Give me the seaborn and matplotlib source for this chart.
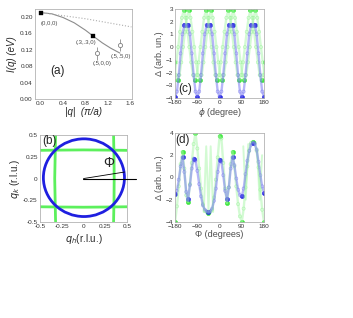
import numpy as np
import matplotlib
matplotlib.use('Agg')
import matplotlib.pyplot as plt
import seaborn as sns
from matplotlib.patches import Ellipse

sns.set_style('white')
plt.rcParams['font.family'] = ['Liberation Sans', 'DejaVu Sans']
plt.rcParams['mathtext.fontset'] = 'dejavusans'

# ---------------- data: panel (a) ----------------
q_solid = [0.0, 0.2, 0.4, 0.6, 0.8, 0.943, 1.1, 1.25, 1.414]
I_solid = [0.211, 0.208, 0.199, 0.186, 0.168, 0.153, 0.137, 0.124, 0.112]
q_dot = [0.0, 0.8, 1.62]
I_dot = [0.211, 0.196, 0.176]
q_calc = [0.0, 0.943]
I_calc = [0.211, 0.153]
q_exp = [1.0, 1.414]
I_exp = [0.111, 0.131]
I_err = [0.015, 0.015]
pt_labels = ['(0,0,0)', '(.3,.3,0)', '(.5,0,0)', '(.5,.5,0)']
pt_lab_x = [0.16, 0.80, 1.09, 1.43]
pt_lab_y = [0.185, 0.137, 0.087, 0.104]

# ---------------- data: panel (b) ----------------
circ_center = (0.005, 0.01)
circ_w, circ_h = 0.93, 0.895
fs_t = [-0.5, -0.25, 0.0, 0.25, 0.5]
fs_left = [-0.32, -0.325, -0.33, -0.325, -0.32]
fs_right = [0.345, 0.35, 0.352, 0.35, 0.345]
fs_top = [0.325, 0.328, 0.33, 0.328, 0.325]
fs_bot = [-0.325, -0.328, -0.33, -0.328, -0.325]
phi_line_x = [0.0, 0.6]
phi_line_y = [0.0, 0.0]
phi_ang_x = [0.0, 0.47]
phi_ang_y = [0.0, 0.075]

# ---------------- data: panel (c) ----------------
phi_c = np.arange(-180, 180.1, 7.5)
blue_c = [-3.9, -3.5, -2.2, -0.5, 1.0, 1.75, 1.7, 1.75, 1.0, -0.5, -2.2, -3.5,
          -3.9, -3.5, -2.2, -0.5, 1.0, 1.75, 1.7, 1.75, 1.0, -0.5, -2.2, -3.5,
          -3.9, -3.5, -2.2, -0.5, 1.0, 1.75, 1.7, 1.75, 1.0, -0.5, -2.2, -3.5,
          -3.9, -3.5, -2.2, -0.5, 1.0, 1.75, 1.7, 1.75, 1.0, -0.5, -2.2, -3.5,
          -3.9]
phi_gA = np.arange(-190, 185.1, 7.5)
green_cA = [-2.6, -2.2, -1.2, 0.0, 1.2, 2.3, 2.9, 2.3, 1.2, 0.0, -1.2, -2.2,
            -2.6, -2.2, -1.2, 0.0, 1.2, 2.3, 2.9, 2.3, 1.2, 0.0, -1.2, -2.2,
            -2.6, -2.2, -1.2, 0.0, 1.2, 2.3, 2.9, 2.3, 1.2, 0.0, -1.2, -2.2,
            -2.6, -2.2, -1.2, 0.0, 1.2, 2.3, 2.9, 2.3, 1.2, 0.0, -1.2, -2.2,
            -2.6, -2.2, -1.2]
phi_gB = np.arange(-185, 190.1, 7.5)
green_cB = [-1.2, -2.2,
            -2.6, -2.2, -1.2, 0.0, 1.2, 2.3, 2.9, 2.3, 1.2, 0.0, -1.2, -2.2,
            -2.6, -2.2, -1.2, 0.0, 1.2, 2.3, 2.9, 2.3, 1.2, 0.0, -1.2, -2.2,
            -2.6, -2.2, -1.2, 0.0, 1.2, 2.3, 2.9, 2.3, 1.2, 0.0, -1.2, -2.2,
            -2.6, -2.2, -1.2, 0.0, 1.2, 2.3, 2.9, 2.3, 1.2, 0.0, -1.2, -2.2,
            -2.6]

# ---------------- data: panel (d) ----------------
phi_d = np.arange(-180, 180.1, 7.5)
blue_d = [-1.5, -1.2, -0.2, 1.0, 1.8, 0.5, -1.3, -1.9, -0.7, 0.8, 1.7, 1.5,
          0.6, -0.6, -1.7, -2.5, -2.9, -3.05, -3.1, -3.05, -2.8, -2.1, -1.0, 0.5,
          1.6, 1.4, 0.2, -1.2, -1.9, -0.9, 0.8, 1.8, 1.1, -0.1, -1.1, -1.6,
          -1.7, -1.0, 0.3, 1.5, 2.4, 2.95, 3.1, 3.0, 2.5, 1.4, 0.2, -0.8,
          -1.4]
green_d = [-4.0, -2.6, -0.8, 1.2, 2.3, 0.8, -1.6, -2.2, -0.6, 1.3, 3.0, 4.0,
           2.6, 0.8, -1.0, -2.4, -3.0, -3.1, -3.15, -3.1, -2.9, -1.8, -0.2, 1.8,
           3.7, 3.5, 1.3, -1.0, -2.3, -0.9, 1.2, 2.3, 1.0, -0.8, -2.4, -3.5,
           -4.0, -2.8, -0.9, 1.0, 2.4, 3.1, 3.2, 3.1, 2.4, 0.9, -1.1, -2.9,
           -4.0]
phi_spk1 = [-64, -59, -54, -49, -45, -40, -36, -31, -26]
green_spk1 = [-3.1, -0.2, 2.8, -0.1, -3.0, -0.1, 2.8, -0.2, -3.1]
phi_spk2 = [96, 101, 106, 111, 116]
green_spk2 = [2.8, 0.4, -2.0, 0.5, 3.0]
phi_spk3 = [152, 157, 162, 167, 172]
green_spk3 = [2.6, 0.3, -2.0, 0.0, 2.0]

BLUE, BLUE_L = '#1f1fe0', '#6f6ff2'
GREEN, GREEN_L = '#33e633', '#a8f7a8'

fig = plt.figure(figsize=(3.53, 3.18), dpi=100)
ax_a = fig.add_axes([0.099, 0.689, 0.275, 0.283])
ax_c = fig.add_axes([0.496, 0.692, 0.252, 0.280])
ax_b = fig.add_axes([0.113, 0.302, 0.247, 0.273])
ax_d = fig.add_axes([0.496, 0.302, 0.252, 0.280])


def frame(ax):
    for s in ax.spines.values():
        s.set_color('0.7')
        s.set_linewidth(0.6)
    ax.tick_params(direction='in', length=2, width=0.5, color='0.5',
                   labelsize=4.6, labelcolor='0.2', pad=1.5)


def band(ax, x, y, dark, light, lw=1.7):
    x = np.asarray(x, float)
    y = np.asarray(y, float)
    sns.lineplot(x=x, y=y, ax=ax, color=light, lw=lw, alpha=0.5,
                 sort=False, estimator=None)
    sns.scatterplot(x=x, y=y, ax=ax, marker='o', s=5, facecolor='none',
                    edgecolor=dark, alpha=0.35, linewidth=0.5)
    d = np.diff(y)
    ext = np.where(np.sign(d[:-1]) != np.sign(d[1:]))[0] + 1
    ext = np.concatenate([[0], ext, [len(y) - 1]])
    sns.scatterplot(x=x[ext], y=y[ext], ax=ax, marker='o', s=9,
                    color=dark, edgecolor=dark, linewidth=0.4, alpha=0.9)


# ---- (a)
sns.lineplot(x=q_solid, y=I_solid, ax=ax_a, color='0.55', lw=0.8)
sns.lineplot(x=q_dot, y=I_dot, ax=ax_a, color='0.68', lw=0.8, linestyle=':')
sns.scatterplot(x=q_calc, y=I_calc, ax=ax_a, marker='s', color='black', s=9,
                edgecolor='black', zorder=4)
ax_a.errorbar(q_exp, I_exp, yerr=I_err, fmt='o', mfc='white', mec='0.5',
              ecolor='0.55', ms=3, mew=0.6, elinewidth=0.6, zorder=4)
for t, x, y in zip(pt_labels, pt_lab_x, pt_lab_y):
    ax_a.text(x, y, t, fontsize=4.3, color='0.3', ha='center', va='center')
ax_a.text(0.3, 0.068, '(a)', fontsize=8.5, ha='center', va='center')
ax_a.set_xlim(-0.1, 1.63)
ax_a.set_ylim(0, 0.22)
ax_a.set_xticks([0.0, 0.4, 0.8, 1.2, 1.6])
ax_a.set_xticklabels(['0.0', '0.4', '0.8', '1.2', '1.6'])
ax_a.set_yticks([0.0, 0.04, 0.08, 0.12, 0.16, 0.20])
ax_a.set_yticklabels(['0.00', '0.04', '0.08', '0.12', '0.16', '0.20'])
ax_a.set_xlabel('|q|  (π/a)', fontsize=7, style='italic', labelpad=1)
ax_a.set_ylabel('I(q) (eV)', fontsize=7, style='italic', labelpad=2)
frame(ax_a)

# ---- (b)
for xs, ys in [(fs_left, fs_t), (fs_right, fs_t), (fs_t, fs_top), (fs_t, fs_bot)]:
    sns.lineplot(x=xs, y=ys, ax=ax_b, color='#5cf05c', lw=2.0, sort=False,
                 estimator=None)
ax_b.add_patch(Ellipse(circ_center, circ_w, circ_h, fill=False,
                       edgecolor='#1f1fe0', lw=2.0, zorder=5))
ax_b.plot(phi_line_x, phi_line_y, color='black', lw=0.8, clip_on=False, zorder=6)
ax_b.plot(phi_ang_x, phi_ang_y, color='black', lw=0.6, zorder=6)
ax_b.text(0.29, 0.175, 'Φ', fontsize=10, ha='center', va='center')
ax_b.text(-0.39, 0.43, '(b)', fontsize=8.5, ha='center', va='center')
ax_b.set_xlim(-0.5, 0.5)
ax_b.set_ylim(-0.5, 0.5)
ticks_b = [-0.5, -0.25, 0, 0.25, 0.5]
ax_b.set_xticks(ticks_b)
ax_b.set_xticklabels(['-0.5', '-0.25', '0', '0.25', '0.5'])
ax_b.set_yticks(ticks_b)
ax_b.set_yticklabels(['-0.5', '-0.25', '0', '0.25', '0.5'])
ax_b.set_xlabel(r'$q_h$(r.l.u.)', fontsize=7, labelpad=2)
ax_b.set_ylabel(r'$q_k$ (r.l.u.)', fontsize=7, labelpad=1)
frame(ax_b)

# ---- (c)
band(ax_c, phi_gA, green_cA, GREEN, GREEN_L)
band(ax_c, phi_gB, green_cB, GREEN, GREEN_L)
band(ax_c, phi_c, blue_c, BLUE, BLUE_L)
ax_c.text(-140, -3.3, '(c)', fontsize=8.5, ha='center', va='center')
ax_c.set_xlim(-180, 180)
ax_c.set_ylim(-4, 3)
ax_c.set_xticks([-180, -90, 0, 90, 180])
ax_c.set_yticks(range(-4, 4))
ax_c.set_xlabel(r'$\phi$ (degree)', fontsize=6.5, color='0.3', labelpad=1)
ax_c.set_ylabel('Δ (arb. un.)', fontsize=6.5, color='0.3', labelpad=1)
frame(ax_c)

# ---- (d)
band(ax_d, phi_d, green_d, GREEN, GREEN_L)
for px, gy in [(phi_spk1, green_spk1), (phi_spk2, green_spk2), (phi_spk3, green_spk3)]:
    sns.lineplot(x=px, y=gy, ax=ax_d, color=GREEN_L, lw=1.4, alpha=0.5,
                 sort=False, estimator=None)
band(ax_d, phi_d, blue_d, BLUE, BLUE_L)
ax_d.text(-148, 3.35, '(d)', fontsize=8.5, ha='center', va='center')
ax_d.set_xlim(-180, 180)
ax_d.set_ylim(-4, 4)
ax_d.set_xticks([-180, -90, 0, 90, 180])
ax_d.set_yticks([-4, -2, 0, 2, 4])
ax_d.set_xlabel('Φ (degrees)', fontsize=6.5, color='0.3', labelpad=1)
ax_d.set_ylabel('Δ (arb. un.)', fontsize=6.5, color='0.3', labelpad=1)
frame(ax_d)

fig.savefig('out.png', dpi=100)
